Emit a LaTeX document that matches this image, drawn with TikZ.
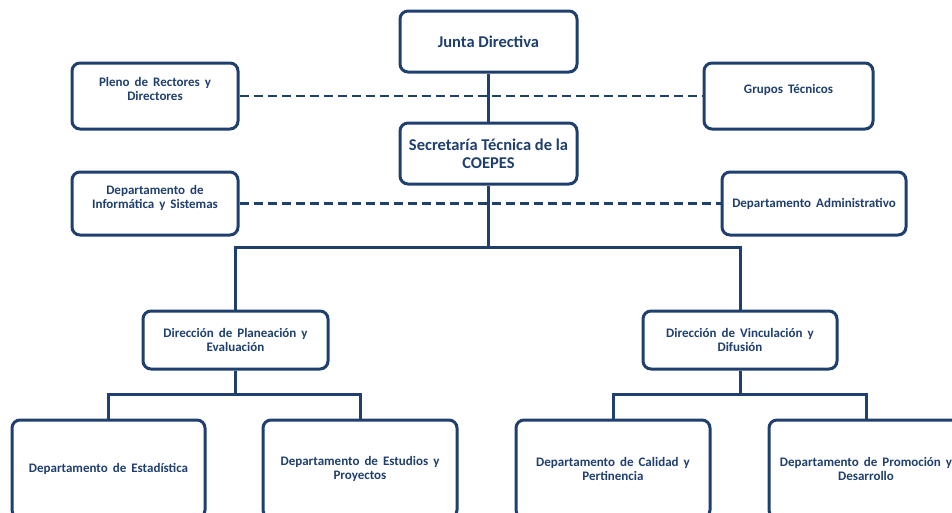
\documentclass[tikz,border=0pt]{standalone}
\usepackage{fontspec}
\setmainfont{Carlito}
\usetikzlibrary{positioning}
\definecolor{orgblue}{RGB}{31,63,110}
\newcommand\widewords{\spaceskip=5pt plus 1pt\relax}
\newcommand\plainwords{\spaceskip=0pt\relax}

\tikzset{
  unitbox/.style={draw=orgblue, line width=3pt, rounded corners=8pt, fill=white,
    text=orgblue, font=\bfseries\fontsize{13}{14}\selectfont, align=center,
    execute at begin node=\widewords},
  headbox/.style={unitbox, font=\bfseries\fontsize{16.5}{18}\selectfont,
    execute at begin node=\plainwords},
  link/.style={draw=orgblue, line width=3pt},
  staff/.style={link, line width=2.8pt, dash pattern=on 9pt off 5pt}
}

\begin{document}
\begin{tikzpicture}[x=1pt, y=-1pt]
    \useasboundingbox (0,0) rectangle (952,512);
    \clip (0,0) rectangle (952,512);

    % top of the chart
    \node[headbox, minimum width=177pt, minimum height=61pt] (junta) at (488.5,41.5) {Junta Directiva};
    \node[headbox, minimum width=177pt, minimum height=61pt] (secre) at (488.5,153.5) {Secretaría Técnica de la\\COEPES};
    \node[unitbox, minimum width=166pt, minimum height=66pt, text depth=14pt] (pleno) at (155,96) {Pleno de Rectores y\\Directores};
    \node[unitbox, minimum width=169pt, minimum height=66pt, text depth=14pt] (grupos) at (788.5,96) {Grupos Técnicos};
    \node[unitbox, minimum width=166pt, minimum height=63pt, text depth=14pt] (info) at (155,203.5) {Departamento de\\Informática y Sistemas};
    \node[unitbox, minimum width=184pt, minimum height=63pt] (admin) at (814,203.5) {Departamento Administrativo};

    \draw[link] (junta) -- (secre);
    \draw[staff] (pleno.east) -- (grupos.west);
    \draw[staff] (info.east) -- (admin.west);

    % direcciones
    \node[unitbox, minimum width=185pt, minimum height=58pt] (plan) at (235.5,340) {Dirección de Planeación y\\Evaluación};
    \node[unitbox, minimum width=194pt, minimum height=58pt] (vinc) at (740,340) {Dirección de Vinculación y\\Difusión};

    \coordinate (bus) at (488.5,247);
    \draw[link] (secre.south) -- (bus);
    \draw[link] (plan.north) |- (bus) -| (vinc.north);

    % departamentos
    \node[unitbox, minimum width=193pt, minimum height=98pt] (estad) at (108.5,469) {Departamento de Estadística};
    \node[unitbox, minimum width=194pt, minimum height=98pt] (estud) at (360,469) {Departamento de Estudios y\\Proyectos};
    \node[unitbox, minimum width=194pt, minimum height=98pt] (calid) at (613,469) {Departamento de Calidad y\\Pertinencia};
    \node[unitbox, minimum width=194pt, minimum height=98pt] (promo) at (866,469) {Departamento de Promoción y\\Desarrollo};

    \coordinate (subplan) at (235.5,394);
    \coordinate (subvinc) at (740,394);
    \draw[link] (plan.south) -- (subplan);
    \draw[link] (estad.north) |- (subplan) -| (estud.north);
    \draw[link] (vinc.south) -- (subvinc);
    \draw[link] (calid.north) |- (subvinc) -| (promo.north);
\end{tikzpicture}
\end{document}
